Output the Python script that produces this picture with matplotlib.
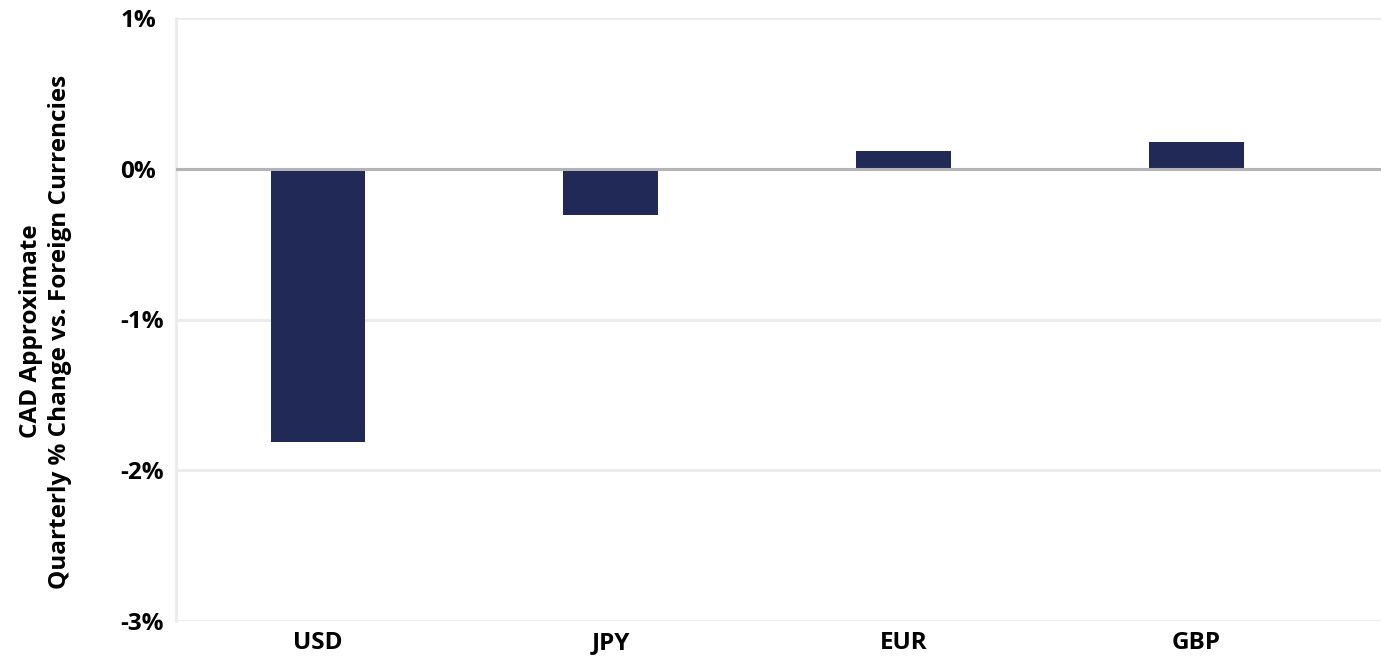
import matplotlib
matplotlib.use('Agg')
import matplotlib.pyplot as plt
from matplotlib.ticker import FuncFormatter

currencies = ['USD', 'JPY', 'EUR', 'GBP']
changes = [-1.81, -0.31, 0.12, 0.18]
y_ticks = [-3, -2, -1, 0, 1]

plt.rcParams['font.family'] = ['Open Sans', 'DejaVu Sans']
plt.rcParams['font.weight'] = 'bold'

fig = plt.figure(figsize=(13.81, 6.57), dpi=100)
ax = fig.add_axes([176 / 1381, 1 - 621 / 657, 1 - 176 / 1381, (621 - 18) / 657])

x = list(range(len(currencies)))
ax.bar(x, changes, width=0.324, color='#212956', zorder=3)

ax.set_ylim(-3, 1)
ax.set_xlim(-0.485, 3.63)
ax.set_yticks(y_ticks)
ax.yaxis.set_major_formatter(FuncFormatter(lambda v, _: f'{v:.0f}%'))
ax.set_xticks(x)
ax.set_xticklabels(currencies)

ax.grid(axis='y', color='#ebebeb', linewidth=2, zorder=0)
ax.axhline(0, color='#b4b4b4', linewidth=2.2, zorder=4)

for side in ['top', 'right', 'bottom']:
    ax.spines[side].set_visible(False)
ax.spines['left'].set_color('#ebebeb')
ax.spines['left'].set_linewidth(2)

ax.tick_params(axis='both', length=0, labelsize=17.5, colors='black')
ax.tick_params(axis='y', pad=40)
ax.tick_params(axis='x', pad=7)
for lbl in ax.get_xticklabels():
    lbl.set_fontweight('bold')
for lbl in ax.get_yticklabels():
    lbl.set_fontweight('bold')
    lbl.set_horizontalalignment('left')

ax.set_ylabel('CAD Approximate\nQuarterly % Change vs. Foreign Currencies',
              fontsize=17.5, fontweight='bold', linespacing=1.3)
ax.yaxis.set_label_coords(-0.086, 0.48)

fig.savefig('out.png', dpi=100)
